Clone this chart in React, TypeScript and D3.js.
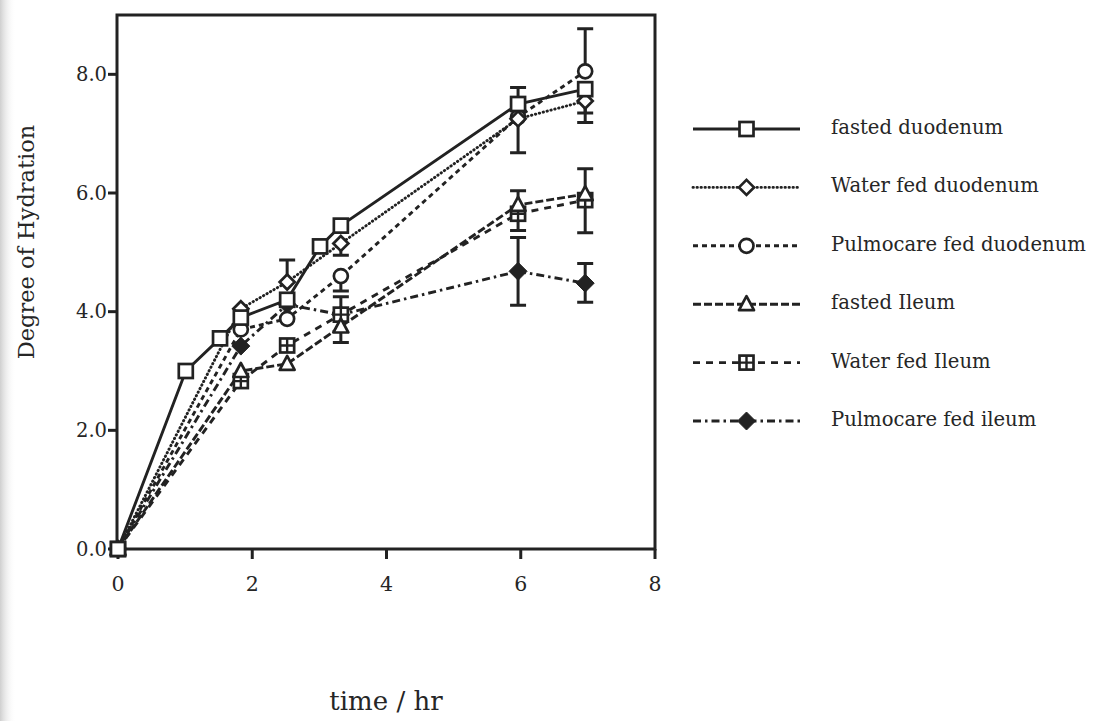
import React from "react";
import * as d3 from "d3";

// ---- data ----
const fdTimes = [0, 1.01, 1.52, 1.83, 2.52, 3.01, 3.32, 5.96, 6.96];
const fdValues = [0, 3.0, 3.55, 3.9, 4.2, 5.1, 5.45, 7.5, 7.75];
const fdErrUp = [0, 0, 0, 0, 0, 0, 0, 0.28, 0];
const fdErrDown = [0, 0, 0, 0, 0, 0, 0, 0, 0.4];

const times = [0, 1.83, 2.52, 3.32, 5.96, 6.96];

const wdValues = [0, 4.05, 4.5, 5.15, 7.25, 7.55];
const wdErrUp = [0, 0, 0.37, 0, 0, 0];
const wdErrDown = [0, 0, 0, 0.2, 0, 0.36];

const pdValues = [0, 3.7, 3.88, 4.6, 7.28, 8.05];
const pdErrUp = [0, 0, 0, 0, 0, 0.72];
const pdErrDown = [0, 0, 0, 0.25, 0.6, 0];

const fiValues = [0, 3.0, 3.12, 3.75, 5.8, 5.98];
const fiErrUp = [0, 0, 0, 0, 0.24, 0.43];
const fiErrDown = [0, 0, 0, 0.27, 0, 0];

const wiValues = [0, 2.83, 3.43, 3.95, 5.65, 5.88];
const wiErrUp = [0, 0, 0, 0.3, 0, 0];
const wiErrDown = [0, 0, 0, 0, 0.28, 0.55];

const piValues = [0, 3.42, 4.12, 3.95, 4.68, 4.48];
const piErrUp = [0, 0, 0, 0, 0.57, 0.33];
const piErrDown = [0, 0, 0, 0, 0.57, 0.32];

const seriesNames = [
  "fasted duodenum",
  "Water fed duodenum",
  "Pulmocare fed duodenum",
  "fasted Ileum",
  "Water fed Ileum",
  "Pulmocare fed ileum",
];
const xTicks = [0, 2, 4, 6, 8];
const yTicks = [0, 2, 4, 6, 8];

const INK = "#222";
const TXT = "#262626";

type Series = {
  name: string;
  t: number[];
  v: number[];
  up: number[];
  down: number[];
  dash: string;
  cap: "round" | "butt";
  marker: string;
};

const series: Series[] = [
  { name: seriesNames[0], t: fdTimes, v: fdValues, up: fdErrUp, down: fdErrDown, dash: "none", cap: "butt", marker: "square" },
  { name: seriesNames[1], t: times, v: wdValues, up: wdErrUp, down: wdErrDown, dash: "0.4 3.6", cap: "round", marker: "diamond" },
  { name: seriesNames[2], t: times, v: pdValues, up: pdErrUp, down: pdErrDown, dash: "5 4", cap: "butt", marker: "circle" },
  { name: seriesNames[3], t: times, v: fiValues, up: fiErrUp, down: fiErrDown, dash: "8 3", cap: "butt", marker: "triangle" },
  { name: seriesNames[4], t: times, v: wiValues, up: wiErrUp, down: wiErrDown, dash: "7 6", cap: "butt", marker: "squareplus" },
  { name: seriesNames[5], t: times, v: piValues, up: piErrUp, down: piErrDown, dash: "8 4 2.5 4", cap: "butt", marker: "fdiamond" },
];
// marker drawing order: fasted duodenum squares on top
const markerOrder = [5, 4, 3, 2, 1, 0];

function Marker({ type, x, y }: { type: string; x: number; y: number }) {
  const sw = 2.7;
  if (type === "square") {
    return <rect x={x - 7} y={y - 7} width={14} height={14} fill="#fff" stroke={INK} strokeWidth={sw} />;
  }
  if (type === "diamond") {
    return (
      <path d={`M${x},${y - 7.5}L${x + 7.5},${y}L${x},${y + 7.5}L${x - 7.5},${y}Z`} fill="#fff" stroke={INK} strokeWidth={sw} />
    );
  }
  if (type === "circle") {
    return <circle cx={x} cy={y} r={7} fill="#fff" stroke={INK} strokeWidth={sw} />;
  }
  if (type === "triangle") {
    return (
      <path d={`M${x},${y - 8}L${x + 7.5},${y + 6}L${x - 7.5},${y + 6}Z`} fill="#fff" stroke={INK} strokeWidth={sw} strokeLinejoin="round" />
    );
  }
  if (type === "squareplus") {
    return (
      <g>
        <rect x={x - 7} y={y - 7} width={14} height={14} fill="#fff" stroke={INK} strokeWidth={sw} />
        <path d={`M${x - 7},${y}H${x + 7}M${x},${y - 7}V${y + 7}`} stroke={INK} strokeWidth={2.4} />
      </g>
    );
  }
  return <path d={`M${x},${y - 9}L${x + 9},${y}L${x},${y + 9}L${x - 9},${y}Z`} fill={INK} stroke={INK} strokeWidth={1} />;
}

export default function App() {
  const W = 1096;
  const H = 721;
  const x = d3.scaleLinear().domain([0, 8]).range([118, 655]);
  const y = d3.scaleLinear().domain([0, 9]).range([549, 15]);
  const line = d3
    .line<[number, number]>()
    .x((d) => x(d[0]))
    .y((d) => y(d[1]));

  const legendX0 = 693;
  const legendX1 = 800;
  const legendY0 = 129;
  const legendStep = 58.4;

  return (
    <svg
      width={W}
      height={H}
      viewBox={`0 0 ${W} ${H}`}
      style={{ position: "absolute", left: 0, top: 0, background: "#fff" }}
    >
      <defs>
        <linearGradient id="shade" x1="0" x2="1" y1="0" y2="0">
          <stop offset="0" stopColor="#cfcfcf" />
          <stop offset="1" stopColor="#ffffff" stopOpacity="0" />
        </linearGradient>
      </defs>
      <rect x={0} y={0} width={W} height={H} fill="#fff" />
      <rect x={0} y={0} width={16} height={H} fill="url(#shade)" />

      {/* frame */}
      <rect x={x(0) - 1} y={y(9)} width={x(8) - x(0) + 1} height={y(0) - y(9)} fill="none" stroke={INK} strokeWidth={3} />

      {/* y ticks */}
      {yTicks.map((t) => (
        <g key={"y" + t}>
          <line x1={x(0) - 10} x2={x(0)} y1={y(t)} y2={y(t)} stroke={INK} strokeWidth={3} />
          <text
            x={107}
            y={y(t)}
            dy="0.35em"
            textAnchor="end"
            fontFamily="DejaVu Serif"
            fontSize={19.5}
            fill={TXT}
          >
            {t.toFixed(1)}
          </text>
        </g>
      ))}
      {/* x ticks */}
      {xTicks.map((t) => (
        <g key={"x" + t}>
          <line x1={x(t)} x2={x(t)} y1={y(0)} y2={y(0) + 10} stroke={INK} strokeWidth={3} />
          <text
            x={x(t)}
            y={591}
            textAnchor="middle"
            fontFamily="DejaVu Serif"
            fontSize={20.5}
            fill={TXT}
          >
            {t}
          </text>
        </g>
      ))}

      {/* axis titles */}
      <text
        transform={`translate(34,${242}) rotate(-90)`}
        textAnchor="middle"
        fontFamily="DejaVu Serif"
        fontSize={22.5}
        fill={TXT}
      >
        Degree of Hydration
      </text>
      <text x={386} y={710} textAnchor="middle" fontFamily="DejaVu Serif" fontSize={26} fill={TXT}>
        time / hr
      </text>

      {/* lines */}
      {series.map((s) => (
        <path
          key={"l" + s.name}
          d={line(s.t.map((t, i) => [t, s.v[i]] as [number, number])) || ""}
          fill="none"
          stroke={INK}
          strokeWidth={2.9}
          strokeDasharray={s.dash}
          strokeLinecap={s.cap}
        />
      ))}

      {/* error bars */}
      {series.map((s) =>
        s.t.map((t, i) => {
          const out: any[] = [];
          const cx = x(t);
          if (s.up[i] > 0) {
            const yy = y(s.v[i] + s.up[i]);
            out.push(
              <path key={`u${s.name}${i}`} d={`M${cx},${y(s.v[i])}V${yy}M${cx - 8},${yy}H${cx + 8}`} stroke={INK} strokeWidth={3} fill="none" />
            );
          }
          if (s.down[i] > 0) {
            const yy = y(s.v[i] - s.down[i]);
            out.push(
              <path key={`d${s.name}${i}`} d={`M${cx},${y(s.v[i])}V${yy}M${cx - 8},${yy}H${cx + 8}`} stroke={INK} strokeWidth={3} fill="none" />
            );
          }
          return out;
        })
      )}

      {/* markers */}
      {markerOrder.map((k) => {
        const s = series[k];
        return s.t.map((t, i) => <Marker key={`m${s.name}${i}`} type={s.marker} x={x(t)} y={y(s.v[i])} />);
      })}

      {/* legend */}
      {series.map((s, i) => {
        const ly = legendY0 + i * legendStep;
        return (
          <g key={"lg" + s.name}>
            <line
              x1={legendX0}
              x2={legendX1}
              y1={ly}
              y2={ly}
              stroke={INK}
              strokeWidth={2.9}
              strokeDasharray={s.dash}
              strokeLinecap={s.cap}
            />
            <Marker type={s.marker} x={(legendX0 + legendX1) / 2} y={ly} />
            <text x={831} y={ly + 5} fontFamily="DejaVu Serif" fontSize={19.6} fill={TXT}>
              {s.name}
            </text>
          </g>
        );
      })}
    </svg>
  );
}
